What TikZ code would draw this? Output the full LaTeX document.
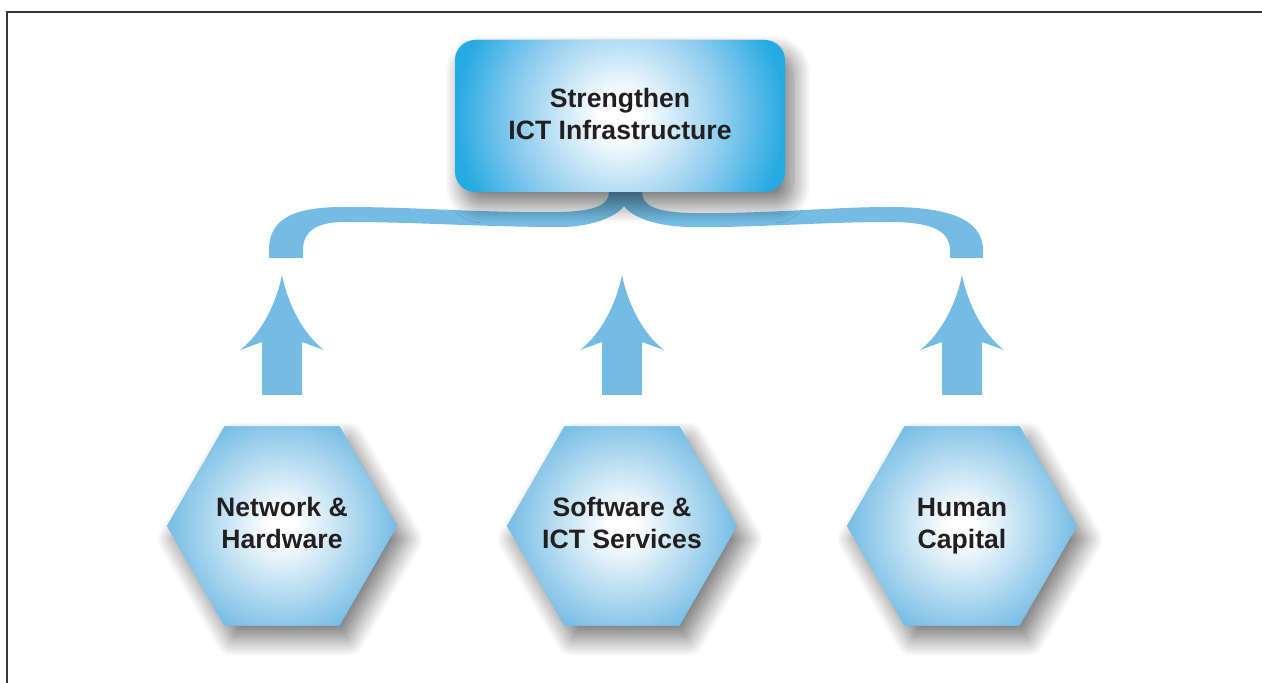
\documentclass[tikz,border=0pt]{standalone}
\usepackage{fontspec}
\setmainfont{Liberation Sans}
\usetikzlibrary{shapes.geometric,shadows.blur,calc}
\definecolor{hexblue}{RGB}{116,188,228}
\definecolor{boxcyan}{RGB}{38,170,226}
\definecolor{boxmid}{RGB}{140,203,238}
\definecolor{inkc}{RGB}{35,31,32}
\definecolor{framec}{RGB}{55,55,55}
\pgfdeclareradialshading{hexshade}{\pgfpoint{0bp}{0bp}}{color(0bp)=(white); color(3bp)=(white); color(25bp)=(hexblue); color(50bp)=(hexblue)}
\pgfdeclareradialshading{boxshade}{\pgfpoint{0bp}{0bp}}{color(0bp)=(white); color(3bp)=(white); color(16bp)=(boxmid); color(25bp)=(boxcyan); color(50bp)=(boxcyan)}
\begin{document}
\begin{tikzpicture}[x=0.5pt,y=-0.5pt,
  softshadow/.style={blur shadow={shadow xshift=4pt, shadow yshift=-6.5pt, shadow blur radius=9pt, shadow blur steps=20, shadow opacity=55}},
  hexnode/.style={regular polygon, regular polygon sides=6, minimum size=115pt, inner sep=0pt,
    fill=hexblue, softshadow,
    path picture={\shade[shading=hexshade] (path picture bounding box.center) circle (58pt);}},
  labeltext/.style={text=inkc, font=\bfseries\fontsize{13.3}{16}\selectfont, align=center, inner sep=0pt, text depth=3pt},
  topnode/.style={rectangle, rounded corners=10pt, minimum width=165pt, minimum height=76pt, inner sep=0pt,
    fill=boxcyan, softshadow,
    path picture={\shade[shading=boxshade] (path picture bounding box.center) circle (82pt);}},
  bluefill/.style={fill=hexblue},
  uparrow/.pic={\fill[bluefill] (0,-251) .. controls (6,-221) and (22,-191) .. (42,-176) -- (20,-184) -- (20,-131) -- (-20,-131) -- (-20,-184) -- (-42,-176) .. controls (-22,-191) and (-6,-221) .. (0,-251) -- cycle;}
]
\useasboundingbox (0,0) rectangle (1262,683);
% frame
\draw[framec, line width=1pt] (7,690) -- (7,12) -- (1270,12);
% brace
\fill[bluefill] (269,258) -- (269,250)
  .. controls (269,215) and (300,207) .. (345,207)
  .. controls (420,207) and (480,213) .. (560,212)
  .. controls (595,211) and (609,205) .. (609,192)
  -- (642,192)
  .. controls (642,205) and (655,212) .. (690,213)
  .. controls (770,214) and (830,207) .. (890,207)
  .. controls (945,207) and (983,218) .. (983,250)
  -- (983,258) -- (950,258) -- (950,250)
  .. controls (950,228) and (925,222) .. (890,222)
  .. controls (820,222) and (750,228) .. (690,227)
  .. controls (650,226) and (630,215) .. (624,206)
  .. controls (618,215) and (595,227) .. (560,227)
  .. controls (480,227) and (420,222) .. (345,222)
  .. controls (315,222) and (303,232) .. (303,250)
  -- (303,258) -- cycle;
% top box
\node[topnode] (top) at (620,116) {};
\node[labeltext] (tt) at ($(top.center)+(0,1)$) {Strengthen\\ICT Infrastructure};
% hexagons
\node[hexnode] (h1) at (282,526) {};
\node[hexnode] (h2) at (622,526) {};
\node[hexnode] (h3) at (962,526) {};
\node[labeltext] (t1) at (h1.center) {Network \&\\Hardware};
\node[labeltext] (t2) at (h2.center) {Software \&\\ICT Services};
\node[labeltext] (t3) at (h3.center) {Human\\Capital};
% arrows
\pic at (h1.center) {uparrow};
\pic at (h2.center) {uparrow};
\pic at (h3.center) {uparrow};
\end{tikzpicture}
\end{document}
